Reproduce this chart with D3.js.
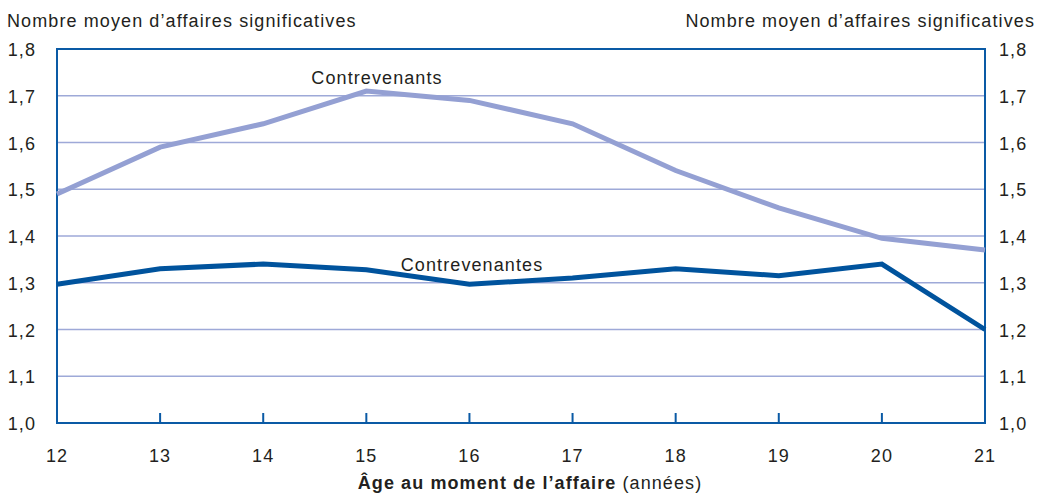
<!DOCTYPE html>
<html>
<head>
<meta charset="utf-8">
<script src="https://cdn.jsdelivr.net/npm/d3@7"></script>
<style>
  body { margin: 0; background: #fff; }
  text { font-family: "Liberation Sans Narrow", "Liberation Sans", sans-serif; fill: #231f20; letter-spacing: 1.1px; }
</style>
</head>
<body>
<svg id="chart"></svg>
<script>
// ages and mean number of significant cases
const ages = [12, 13, 14, 15, 16, 17, 18, 19, 20, 21];
const contrevenants = [1.49, 1.59, 1.64, 1.71, 1.69, 1.64, 1.54, 1.46, 1.395, 1.37];
const contrevenantes = [1.297, 1.33, 1.34, 1.328, 1.297, 1.31, 1.33, 1.315, 1.34, 1.20];
const yTicks = [1.0, 1.1, 1.2, 1.3, 1.4, 1.5, 1.6, 1.7, 1.8];

const width = 1040, height = 497;
const margin = { top: 49, right: 55, bottom: 74, left: 57 };
const innerW = width - margin.left - margin.right;
const innerH = height - margin.top - margin.bottom;

const svg = d3.select('#chart').attr('width', width).attr('height', height);
const chart = svg.append('g').attr('transform', `translate(${margin.left},${margin.top})`);

const x = d3.scaleLinear().domain([12, 21]).range([0, innerW]);
const y = d3.scaleLinear().domain([1.0, 1.8]).range([innerH, 0]);
const fmt = d => d3.format('.1f')(d).replace('.', ',');

// gridlines
chart.append('g').selectAll('line')
  .data(yTicks.filter(d => d > 1.0 && d < 1.8))
  .join('line')
  .attr('x1', 0).attr('x2', innerW)
  .attr('y1', d => y(d)).attr('y2', d => y(d))
  .attr('stroke', '#9ea9d8').attr('stroke-width', 1.5);

// frame
chart.append('rect')
  .attr('width', innerW).attr('height', innerH)
  .attr('fill', 'none').attr('stroke', '#0a5aa5').attr('stroke-width', 2);

// x ticks pointing up
chart.append('g').selectAll('line')
  .data(ages.slice(1, -1))
  .join('line')
  .attr('x1', d => x(d)).attr('x2', d => x(d))
  .attr('y1', innerH).attr('y2', innerH - 10)
  .attr('stroke', '#0a5aa5').attr('stroke-width', 2);

// x labels
chart.append('g').selectAll('text')
  .data(ages)
  .join('text')
  .attr('x', d => x(d)).attr('y', innerH + 39)
  .attr('text-anchor', 'middle').attr('font-size', 18)
  .text(d => d);

// y labels left and right
chart.append('g').selectAll('text')
  .data(yTicks)
  .join('text')
  .attr('x', -21).attr('y', d => y(d) + 7)
  .attr('text-anchor', 'end').attr('font-size', 18)
  .text(fmt);
chart.append('g').selectAll('text')
  .data(yTicks)
  .join('text')
  .attr('x', innerW + 14).attr('y', d => y(d) + 7)
  .attr('text-anchor', 'start').attr('font-size', 18)
  .text(fmt);

// lines
const line = d3.line().x((d, i) => x(ages[i])).y(d => y(d));
chart.append('path').datum(contrevenants)
  .attr('d', line).attr('fill', 'none')
  .attr('stroke', '#94a0d3').attr('stroke-width', 5);
chart.append('path').datum(contrevenantes)
  .attr('d', line).attr('fill', 'none')
  .attr('stroke', '#00539d').attr('stroke-width', 5);

// series labels
chart.append('text').attr('x', 377 - margin.left).attr('y', 84 - margin.top)
  .attr('text-anchor', 'middle').attr('font-size', 18).text('Contrevenants');
chart.append('text').attr('x', 472 - margin.left).attr('y', 271 - margin.top)
  .attr('text-anchor', 'middle').attr('font-size', 18).text('Contrevenantes');

// axis titles
svg.append('text').attr('x', 7).attr('y', 27).attr('font-size', 18)
  .text('Nombre moyen d’affaires significatives');
svg.append('text').attr('x', 1035).attr('y', 27).attr('font-size', 18)
  .attr('text-anchor', 'end')
  .text('Nombre moyen d’affaires significatives');

const xt = svg.append('text').attr('x', 530).attr('y', 489)
  .attr('text-anchor', 'middle').attr('font-size', 18);
xt.append('tspan').attr('font-weight', 'bold').text('Âge au moment de l’affaire');
xt.append('tspan').text(' (années)');
</script>
</body>
</html>
